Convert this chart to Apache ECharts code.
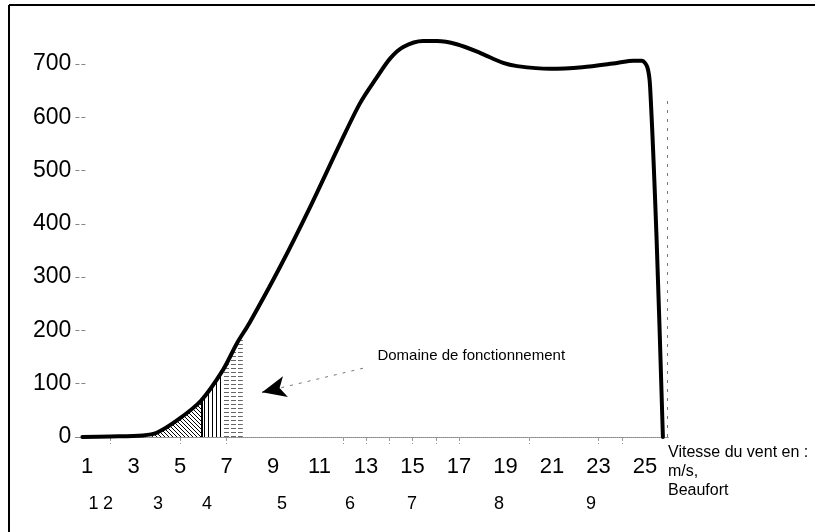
<!DOCTYPE html>
<html><head><meta charset="utf-8">
<script src="https://cdn.jsdelivr.net/npm/echarts@6/dist/echarts.min.js"></script>
<style>html,body{margin:0;padding:0;background:#fff}#c{width:815px;height:532px}</style>
</head><body><div id="c"></div>
<script>
// Wind speed (m/s) and power (kW)
const windSpeed = [0.8, 2, 3.4, 4.0, 4.9, 5.9, 6.85, 7.45, 8.0, 9.3, 10.6, 11.9, 12.75, 13.45, 14.05, 14.6, 15.45, 16.05, 16.9, 17.9, 18.9, 19.5, 20.9, 22.3, 23.8, 24.5, 24.87, 25.1, 25.22, 25.5, 25.77];
const power     = [0,   1, 3,   8,   32,  68,  126,  176,  215, 319, 432,  552,  627,   674,   711,   732,  743,   743,   737,  721,  702,  696,  691,  694,  702,  706,  706,   694,  657,   370,  0];

// Hatched "operating domain" pieces
const diagSpeed  = [3.8, 4.0, 4.9, 5.93];
const diagPower  = [6,   8,   32,  70];
const vertSpeed  = [5.93, 6.85];
const vertPower  = [70,   126];
const horizSpeed = [6.85, 7.45, 7.7];
const horizPower = [126,  176,  193];

// Axis labels
const speedLabels = [1, 3, 5, 7, 9, 11, 13, 15, 17, 19, 21, 23, 25];
const speedTicks = [2, 5, 7, 12, 13, 14, 15, 16, 17, 20, 23, 24];
const beaufortPos = [1.28, 1.9, 4.05, 6.16, 9.39, 12.31, 14.98, 18.72, 22.68];
const beaufortLabels = ['1', '2', '3', '4', '5', '6', '7', '8', '9'];
const powerTicks = [0, 100, 200, 300, 400, 500, 600, 700];

// Annotation
const arrowFrom = [12.87, 129];
const arrowTo = [8.53, 84];
const noteAt = [13.47, 152];
const noteText = 'Domaine de fonctionnement';
const cutOut = 25.94;
const cutOutTop = 638;

const pair = (xs, ys) => xs.map((x, i) => [x, ys[i]]);
const arrowNear = [arrowFrom[0] + 0.95 * (arrowTo[0] - arrowFrom[0]), arrowFrom[1] + 0.95 * (arrowTo[1] - arrowFrom[1])];

function makePattern(kind) {
  const c = document.createElement('canvas');
  const g = c.getContext('2d');
  if (kind === 'diag') {
    c.width = 4; c.height = 4;
    g.fillStyle = '#000';
    for (let i = 0; i < 4; i++) g.fillRect(i, i, 1, 1);
  } else if (kind === 'vert') {
    c.width = 4; c.height = 4;
    g.fillStyle = '#000';
    g.fillRect(0, 0, 1, 4);
  } else {
    c.width = 7; c.height = 4;
    g.fillStyle = '#666';
    g.fillRect(0, 0, 5, 1);
  }
  return { image: c, repeat: 'repeat' };
}

const FONT = '"Liberation Sans", Arial, sans-serif';
const chart = echarts.init(document.getElementById('c'), null, { renderer: 'canvas' });

const hatchSeries = (data, kind, extra) => Object.assign({
  type: 'line', data, showSymbol: false, symbol: 'none', silent: true,
  lineStyle: { width: 0 }, z: 1,
  areaStyle: { color: makePattern(kind), opacity: 1 }
}, extra || {});

chart.setOption({
  animation: false,
  backgroundColor: '#fff',
  grid: { left: 75.4, right: 146.75, top: 10.7, bottom: 95 },
  xAxis: [{
    type: 'value', min: 0.5, max: 26,
    axisLine: { show: true, lineStyle: { color: '#888', type: 'dotted', width: 1 } },
    axisTick: { show: true, customValues: speedTicks, length: 7, lineStyle: { color: '#999', type: 'dashed' } },
    axisLabel: { customValues: speedLabels, fontSize: 22, color: '#000', fontFamily: FONT, margin: 19 },
    splitLine: { show: false }
  }, {
    type: 'value', min: 0.5, max: 26, position: 'bottom',
    axisLine: { show: false }, axisTick: { show: false }, splitLine: { show: false },
    axisLabel: {
      customValues: beaufortPos, fontSize: 18, color: '#000', fontFamily: FONT, margin: 58,
      formatter: v => {
        let best = 0;
        beaufortPos.forEach((p, i) => { if (Math.abs(p - v) < Math.abs(beaufortPos[best] - v)) best = i; });
        return beaufortLabels[best];
      }
    }
  }],
  yAxis: {
    type: 'value', min: 0, max: 800,
    axisLine: { show: false },
    axisTick: { show: true, inside: true, length: 11, customValues: powerTicks, lineStyle: { color: '#888', type: 'dashed' } },
    axisLabel: { customValues: powerTicks, fontSize: 23, color: '#000', fontFamily: FONT, margin: 4 },
    splitLine: { show: false }
  },
  series: [
    hatchSeries(pair(diagSpeed, diagPower), 'diag', {
      markLine: {
        silent: true, symbol: 'none', label: { show: false },
        lineStyle: { color: '#000', width: 2, type: 'solid' },
        data: [[{ coord: [diagSpeed[diagSpeed.length - 1], 0] }, { coord: [diagSpeed[diagSpeed.length - 1], diagPower[diagPower.length - 1]] }]]
      }
    }),
    hatchSeries(pair(vertSpeed, vertPower), 'vert'),
    hatchSeries(pair(horizSpeed, horizPower), 'horiz', {
      markLine: {
        silent: true, symbol: 'none', label: { show: false },
        lineStyle: { color: '#777', width: 1, type: 'dashed' },
        data: [
          [{ coord: [horizSpeed[horizSpeed.length - 1], -18] }, { coord: [horizSpeed[horizSpeed.length - 1], horizPower[horizPower.length - 1]] }],
          [{ coord: [horizSpeed[0], -18] }, { coord: [horizSpeed[0], 0] }],
          [{ coord: [5, -18] }, { coord: [5, 0] }]
        ]
      }
    }),
    {
      type: 'line', data: pair(windSpeed, power), smooth: 0.3,
      showSymbol: false, symbol: 'none', z: 5,
      lineStyle: { color: '#000', width: 4, cap: 'round', join: 'round' },
      markLine: {
        silent: true, animation: false,
        data: [
          [{ coord: arrowFrom, symbol: 'none' }, { coord: arrowTo, symbol: 'none' }],
          [{ coord: arrowNear, symbol: 'none', lineStyle: { color: '#000', width: 1, type: 'solid' } },
           { coord: arrowTo, symbol: 'arrow', symbolSize: [16, 24] }],
          [{ coord: [cutOut, 0], symbol: 'none' }, { coord: [cutOut, cutOutTop], symbol: 'none' }]
        ],
        lineStyle: { color: '#777', width: 1, type: [3, 6] },
        label: { show: false },
        emphasis: { disabled: true }
      },
      markPoint: {
        silent: true, symbol: 'circle', symbolSize: 1,
        itemStyle: { color: 'rgba(0,0,0,0)' },
        label: { show: true, position: 'right', distance: 0, formatter: noteText, color: '#000', fontSize: 15, fontFamily: FONT },
        data: [{ coord: noteAt }]
      }
    }
  ],
  graphic: [
    { type: 'line', shape: { x1: 9, y1: 5, x2: 815, y2: 5 }, style: { stroke: '#000', lineWidth: 2 } },
    { type: 'line', shape: { x1: 9, y1: 5, x2: 9, y2: 532 }, style: { stroke: '#000', lineWidth: 2 } },
    { type: 'text', left: 668, top: 443, style: { text: 'Vitesse du vent en :\nm/s,\nBeaufort', fontSize: 16, lineHeight: 19, fontFamily: FONT, fill: '#000' } }
  ]
});
</script>
</body></html>
